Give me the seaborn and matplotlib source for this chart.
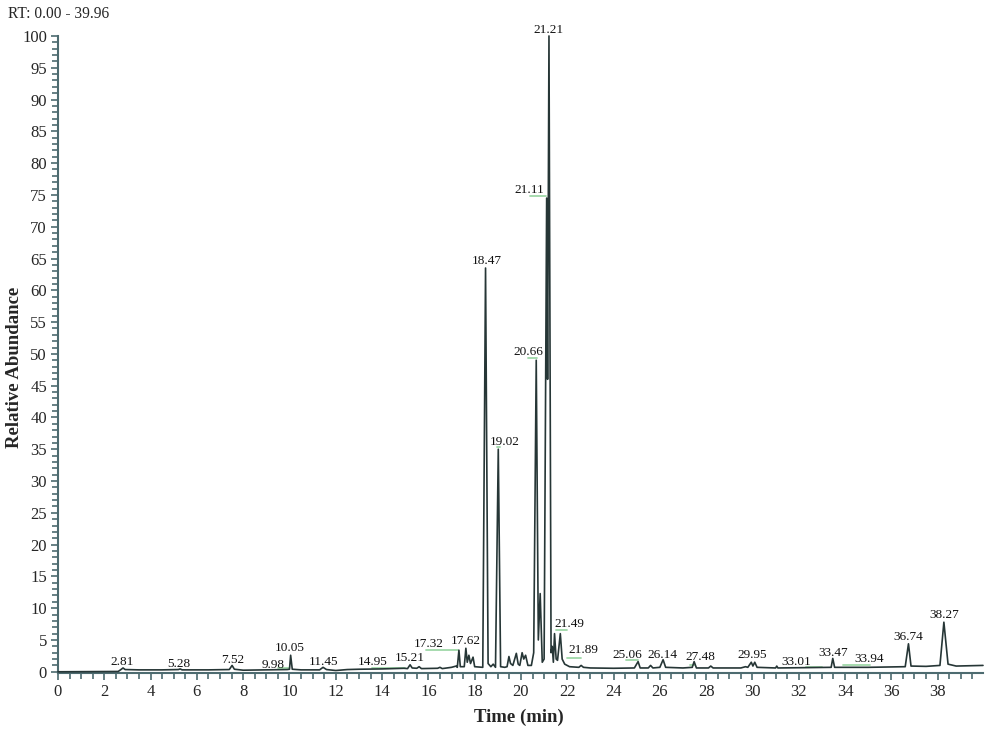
import numpy as np
import pandas as pd
import matplotlib
matplotlib.use("Agg")
import matplotlib.pyplot as plt
import seaborn as sns
from matplotlib.ticker import MultipleLocator

# chromatogram trace, vertices (time in min, relative abundance)
rt = [0.00, 2.60, 2.70, 2.81, 2.90, 3.50, 4.50, 5.20, 5.28, 5.36, 6.50, 7.40, 7.52, 7.62,
      8.00, 9.00, 9.90, 10.00, 10.05, 10.12, 10.50, 11.30, 11.45, 11.60, 12.00, 12.50,
      13.00, 14.00, 14.95, 15.10, 15.21, 15.30, 15.50, 15.60, 15.70, 16.40, 16.50, 16.60,
      17.00, 17.20, 17.25, 17.32, 17.38, 17.55, 17.62, 17.68, 17.75, 17.82, 17.93, 18.00,
      18.35, 18.47, 18.58, 18.70, 18.80, 18.90, 19.02, 19.12, 19.30, 19.40, 19.48, 19.55,
      19.65, 19.80, 19.88, 19.95, 20.05, 20.12, 20.20, 20.30, 20.45, 20.55, 20.66, 20.75,
      20.83, 20.92, 21.00, 21.11, 21.15, 21.21, 21.30, 21.35, 21.40, 21.45, 21.52, 21.58,
      21.70, 21.78, 21.89, 22.10, 22.50, 22.60, 22.70, 23.00, 24.00, 24.90, 25.06, 25.15,
      25.50, 25.60, 25.70, 26.00, 26.14, 26.25, 27.00, 27.40, 27.48, 27.58, 28.10, 28.20,
      28.30, 29.50, 29.70, 29.80, 29.95, 30.02, 30.10, 30.20, 31.00, 31.05, 31.10, 33.40,
      33.47, 33.55, 35.00, 36.60, 36.74, 36.85, 37.50, 38.10, 38.27, 38.45, 38.80, 39.96]
abundance = [0.0, 0.05, 0.3, 0.6, 0.35, 0.3, 0.3, 0.35, 0.45, 0.3, 0.3, 0.35, 1.0, 0.4,
             0.25, 0.3, 0.35, 0.4, 2.6, 0.4, 0.3, 0.3, 0.7, 0.35, 0.2, 0.35,
             0.4, 0.45, 0.55, 0.5, 1.1, 0.6, 0.55, 0.8, 0.5, 0.55, 0.7, 0.5,
             0.7, 0.9, 0.7, 3.4, 0.8, 0.8, 3.7, 1.5, 2.6, 1.3, 2.3, 0.8,
             0.7, 63.5, 1.3, 0.8, 1.2, 0.7, 35.0, 0.8, 0.7, 0.8, 2.4, 1.3,
             1.0, 2.9, 1.2, 1.0, 3.0, 2.0, 2.6, 1.0, 1.0, 3.0, 49.0, 5.0,
             12.3, 1.5, 2.0, 74.5, 46.0, 100.0, 3.0, 4.0, 1.5, 6.0, 2.0, 1.8,
             6.0, 2.0, 1.2, 0.8, 0.7, 1.0, 0.7, 0.6, 0.55, 0.6, 1.6, 0.6,
             0.6, 1.0, 0.6, 0.7, 1.9, 0.7, 0.6, 0.7, 1.6, 0.6, 0.6, 0.9,
             0.6, 0.6, 0.8, 0.7, 1.5, 0.9, 1.5, 0.7, 0.6, 0.9, 0.6, 0.7,
             2.1, 0.7, 0.7, 0.8, 4.4, 0.9, 0.85, 1.0, 7.8, 1.2, 0.9, 1.0]

# peak labels and where they sit (time, abundance)
peak_labels = ["2.81", "5.28", "7.52", "9.98", "10.05", "11.45", "14.95", "15.21", "17.32",
               "17.62", "18.47", "19.02", "20.66", "21.11", "21.21", "21.49", "21.89",
               "25.06", "26.14", "27.48", "29.95", "33.01", "33.47", "33.94", "36.74", "38.27"]
label_x = [2.76, 5.22, 7.56, 9.28, 10.0, 11.45, 13.6, 15.2, 16.0,
           17.6, 18.52, 19.3, 20.3, 20.34, 21.2, 22.1, 22.7,
           24.6, 26.13, 27.75, 29.97, 31.9, 33.47, 35.06, 36.74, 38.3]
label_y = [1.5, 1.2, 1.9, 1.1, 3.8, 1.5, 1.5, 2.2, 4.4,
           4.8, 64.6, 36.2, 50.3, 75.7, 100.9, 7.5, 3.4,
           2.7, 2.7, 2.4, 2.6, 1.6, 3.0, 2.0, 5.5, 9.0]

# green leader lines under some labels: (start, end, level)
lead_x0 = [9.5, 13.55, 15.9, 18.95, 20.3, 20.4, 21.5, 22.0, 24.55, 27.3, 32.3, 33.9]
lead_x1 = [10.0, 15.0, 17.3, 19.1, 20.7, 21.1, 22.0, 22.6, 25.05, 27.5, 33.0, 35.06]
lead_y = [0.6, 0.6, 3.5, 35.3, 49.3, 74.8, 6.6, 2.2, 1.9, 1.0, 0.7, 1.1]

df = pd.DataFrame({"rt": rt, "abundance": abundance})

sns.set_style("ticks")
plt.rcParams["font.family"] = ["Liberation Serif", "DejaVu Serif"]

axis_col = "#4d6b70"
fig = plt.figure(figsize=(10, 7.37), dpi=100)
ax = fig.add_axes([0.058, 0.0872, 0.925, 0.864])

for x0, x1, y in zip(lead_x0, lead_x1, lead_y):
    ax.plot([x0, x1], [y, y], color="#9fd8a8", lw=1.3, zorder=1)

sns.lineplot(data=df, x="rt", y="abundance", sort=False, estimator=None,
             color="#263636", lw=1.2, ax=ax, zorder=3, clip_on=False)

for txt, x, y in zip(peak_labels, label_x, label_y):
    ax.text(x, y, txt, ha="center", va="center", fontsize=9.5, color="#111111")

ax.set_xlim(0, 39.96)
ax.set_ylim(-0.15, 100)
ax.xaxis.set_major_locator(MultipleLocator(2))
ax.xaxis.set_minor_locator(MultipleLocator(0.5))
ax.yaxis.set_major_locator(MultipleLocator(5))
ax.yaxis.set_minor_locator(MultipleLocator(1))
ax.tick_params(axis="both", which="both", direction="out", color=axis_col, width=1.2)
ax.tick_params(axis="both", which="major", length=5, labelsize=12, pad=3)
ax.tick_params(axis="both", which="minor", length=4)
ax.set_xlabel("")
ax.set_ylabel("")
sns.despine(ax=ax)
for side in ["left", "bottom"]:
    ax.spines[side].set_color(axis_col)
    ax.spines[side].set_linewidth(1.5)

fig.text(0.008, 1 - 14 / 737, "RT: 0.00 - 39.96", fontsize=11.2, va="center", ha="left")
fig.text(0.015, 0.502, "Relative Abundance", fontsize=13.5, fontweight="bold",
         rotation=90, va="center", ha="center")
fig.text(0.519, 0.026, "Time (min)", fontsize=13.5, fontweight="bold", va="center", ha="center")

fig.savefig("out.png", dpi=100)
